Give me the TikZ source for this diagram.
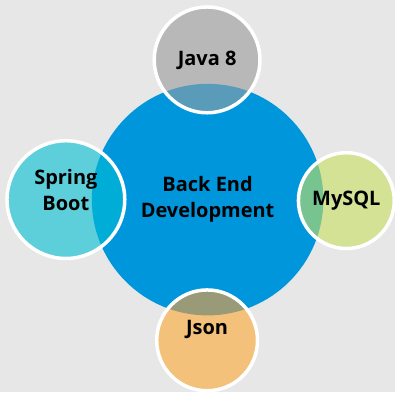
\documentclass[tikz,border=0pt]{standalone}
\usepackage{fontspec}
\setmainfont{Open Sans}
\definecolor{bggray}{HTML}{E7E7E7}
\definecolor{devblue}{HTML}{0096DC}
\definecolor{javagray}{HTML}{B8B8B8}
\definecolor{javamix}{HTML}{5B9BBA}
\definecolor{springcyan}{HTML}{5CCFDB}
\definecolor{springmix}{HTML}{00ADD6}
\definecolor{mysqlgreen}{HTML}{D3E294}
\definecolor{mysqlmix}{HTML}{77C491}
\definecolor{jsonorange}{HTML}{F4C17B}
\definecolor{jsonmix}{HTML}{989A78}
\begin{document}
\begin{tikzpicture}
 [x=1pt,y=1pt,every node/.style={font=\bfseries\fontsize{20}{26}\selectfont,align=center,text=black},
  bubble/.style={circle,draw=white,line width=3.5pt,inner sep=0pt}]
  \fill[bggray] (0,0) rectangle (396,393);
  \node (dev)[circle,fill=devblue,minimum size=232pt] at (208,193) {Back End\\Development};
  \node (java)[bubble,fill=javagray,minimum size=106pt,
    path picture={\fill[javamix] (dev) circle (116pt);}] at (207.5,333) {Java 8};
  \node (spring)[bubble,fill=springcyan,minimum size=118pt,
    path picture={\fill[springmix] (dev) circle (116pt);},
    label={[yshift=10pt]center:Spring\\Boot}] at (66,193) {};
  \node (mysql)[bubble,fill=mysqlgreen,minimum size=96pt,
    path picture={\fill[mysqlmix] (dev) circle (116pt);}] at (347,192) {MySQL};
  \node (json)[bubble,fill=jsonorange,minimum size=101pt,
    path picture={\fill[jsonmix] (dev) circle (116pt);},
    label={[yshift=11pt]center:Json}] at (207.5,52) {};
\end{tikzpicture}
\end{document}
